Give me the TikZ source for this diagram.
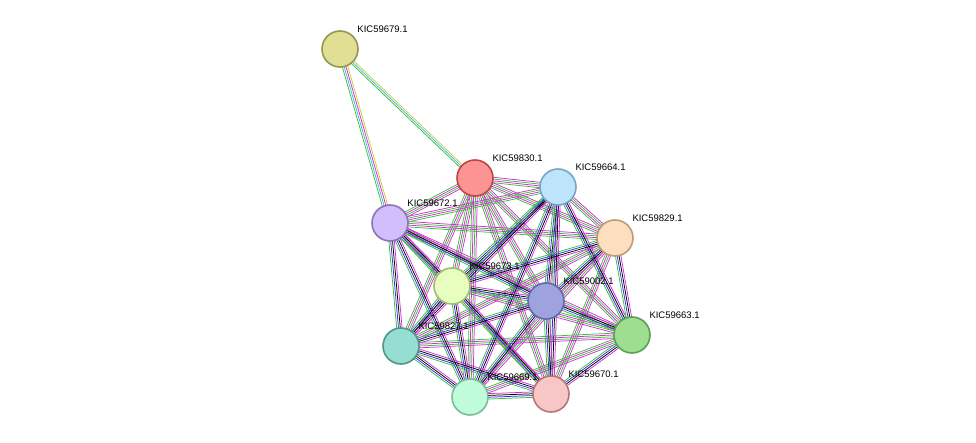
\documentclass[tikz,border=0pt]{standalone}
\usepackage{fontspec}
\setmainfont{Liberation Sans}
\usetikzlibrary{calc,backgrounds}
\definecolor{sgreen}{HTML}{3DBE3D}
\definecolor{smag}{HTML}{D42ED4}
\definecolor{sblue}{HTML}{3030E0}
\definecolor{syel}{HTML}{C8D030}
\definecolor{scyan}{HTML}{40B8E0}
% bundle of parallel lines between two nodes
\newcommand\bundle[3]{%
  \foreach \c [count=\i] in {#3} {%
    \draw[\c, line width=.75pt] ($(#1)!{(\i-2.5)*1.8pt}!90:(#2)$) -- ($(#2)!{(\i-2.5)*1.8pt}!-90:(#1)$);}}
\begin{document}
\begin{tikzpicture}[x=1pt,y=-1pt,
  prot/.style={circle,minimum size=36pt,inner sep=0pt,line width=1.6pt},
  lab/.style={font=\fontsize{9.5}{11}\selectfont,inner sep=1pt,xshift=3pt,yshift=2pt}]
  \useasboundingbox (0,0) rectangle (976,443);

  \node[prot,fill={rgb,255:red,224;green,223;blue,148},draw={rgb,255:red,150;green,150;blue,80},label={[lab]north east:KIC59679.1}] (n679) at (340,49) {};
  \node[prot,fill={rgb,255:red,252;green,148;blue,148},draw={rgb,255:red,190;green,70;blue,70},label={[lab]north east:KIC59830.1}] (n830) at (475,178) {};
  \node[prot,fill={rgb,255:red,190;green,228;blue,252},draw={rgb,255:red,120;green,165;blue,200},label={[lab]north east:KIC59664.1}] (n664) at (558,187) {};
  \node[prot,fill={rgb,255:red,210;green,190;blue,250},draw={rgb,255:red,140;green,115;blue,190},label={[lab]north east:KIC59672.1}] (n672) at (390,223) {};
  \node[prot,fill={rgb,255:red,253;green,222;blue,190},draw={rgb,255:red,190;green,155;blue,120},label={[lab]north east:KIC59829.1}] (n829) at (615,238) {};
  \node[prot,fill={rgb,255:red,232;green,253;blue,192},draw={rgb,255:red,160;green,190;blue,110},label={[lab]north east:KIC59673.1}] (n673) at (452,286) {};
  \node[prot,fill={rgb,255:red,158;green,162;blue,222},draw={rgb,255:red,100;green,105;blue,170},label={[lab]north east:KIC59002.1}] (n002) at (546,301) {};
  \node[prot,fill={rgb,255:red,158;green,222;blue,144},draw={rgb,255:red,90;green,160;blue,80},label={[lab]north east:KIC59663.1}] (n663) at (632,335) {};
  \node[prot,fill={rgb,255:red,150;green,222;blue,210},draw={rgb,255:red,80;green,150;blue,140},label={[lab]north east:KIC59827.1}] (n827) at (401,346) {};
  \node[prot,fill={rgb,255:red,192;green,252;blue,218},draw={rgb,255:red,120;green,190;blue,150},label={[lab]north east:KIC59669.1}] (n669) at (470,397) {};
  \node[prot,fill={rgb,255:red,248;green,198;blue,198},draw={rgb,255:red,180;green,120;blue,120},label={[lab]north east:KIC59670.1}] (n670) at (551,394) {};

  \begin{pgfonlayer}{background}
    \bundle{n679}{n672}{sgreen,scyan,smag,syel}
    \bundle{n679}{n830}{sgreen,scyan,syel}
    \foreach \a/\b in {n830/n664,n830/n672,n830/n829,n830/n673,n830/n002,n830/n663,n830/n827,n830/n669,n830/n670,
                       n672/n829,n672/n664,n672/n663,n672/n670,n829/n827,n829/n669,n829/n670,n663/n673,n663/n827,n663/n669,n664/n829} {
      \bundle{\a}{\b}{sgreen,smag,sgreen,smag}
    }
    \foreach \a/\b in {n664/n673,n664/n002,n664/n827,n664/n669,n664/n670,n664/n663,n672/n673,n672/n002,n672/n827,n672/n669,
                       n829/n673,n829/n002,n829/n663,n673/n002,n673/n827,n673/n669,n673/n670,n002/n663,n002/n827,n002/n669,
                       n002/n670,n827/n669,n827/n670,n669/n670,n663/n670} {
      \bundle{\a}{\b}{sgreen,sblue,black,smag}
    }
  \end{pgfonlayer}
\end{tikzpicture}
\end{document}
